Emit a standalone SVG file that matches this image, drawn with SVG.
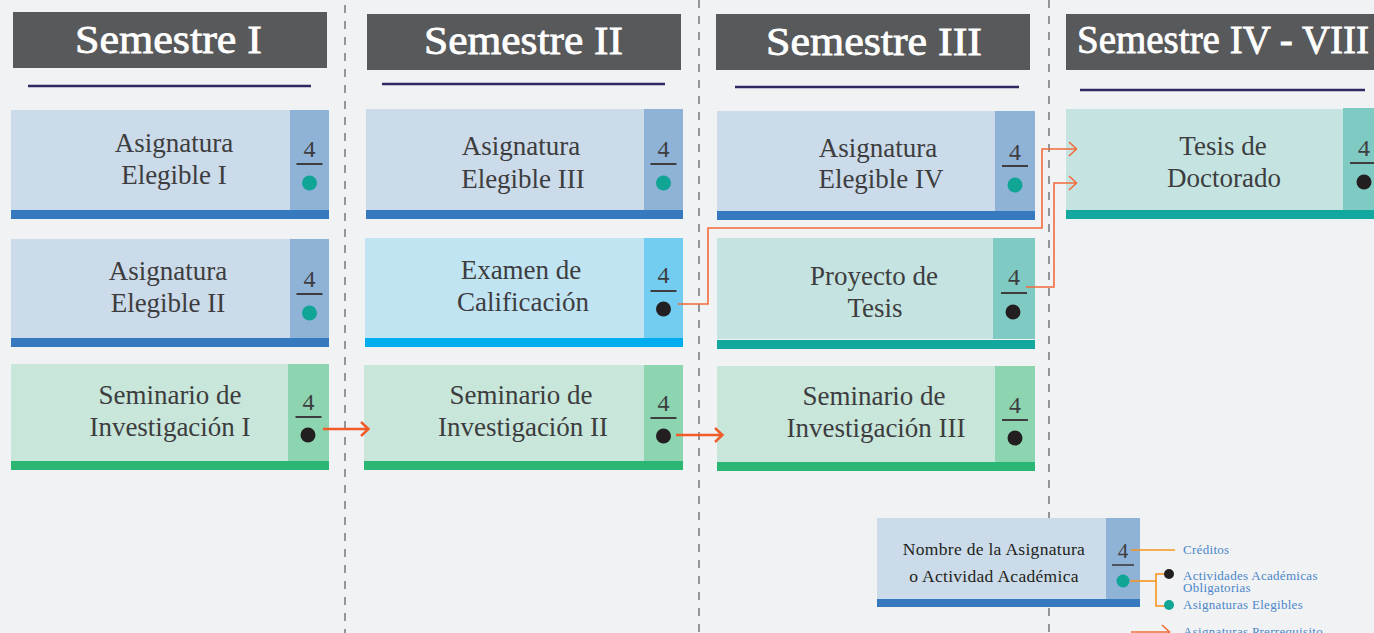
<svg xmlns="http://www.w3.org/2000/svg" width="1374" height="633" viewBox="0 0 1374 633">
<style>
.hdr{fill:#58595b}
.ht{fill:#ffffff;stroke:#ffffff;stroke-width:0.8;font-family:"Liberation Serif",serif;font-size:40px;text-anchor:middle}
.ul{stroke:#2d2a62;stroke-width:2.6}
.dash{stroke:#6d6e71;stroke-width:1.4;stroke-dasharray:8 8;fill:none}
.bm{fill:#cbdbe9}.bp{fill:#8fb2d7}.bb{fill:#3679bf}
.cm{fill:#c1e4f3}.cp{fill:#72cdf0}.cb{fill:#00aeef}
.tm{fill:#c5e4e1}.tp{fill:#7fcbc4}.tb{fill:#12a89d}
.gm{fill:#c8e6da}.gp{fill:#8dd4b1}.gb{fill:#2bb673}
.nm{fill:#3d3d3f;font-family:"Liberation Serif",serif;font-size:27px;text-anchor:middle}
.cr{fill:#3d3d3f;font-family:"Liberation Serif",serif;font-size:24px;text-anchor:middle}
.crl{stroke:#3d3d3f;stroke-width:2}
.dt{fill:#10a595}.dk{fill:#231f20}
.conn{stroke:#f15a29;fill:none;stroke-width:2.4}
.conn2{stroke:#f26b3a;fill:none;stroke-width:1.6}
.lg{stroke:#f7941d;fill:none;stroke-width:1.6}
.lt{fill:#4a86c8;font-family:"Liberation Serif",serif;font-size:13px;letter-spacing:0.3px}
.ln{fill:#231f20;font-family:"Liberation Serif",serif;font-size:17.5px;text-anchor:middle;letter-spacing:0.3px}
</style>
<rect x="0" y="0" width="1374" height="633" fill="#f1f2f4"/>
<g id="dividers">
<line class="dash" x1="345" y1="5" x2="345" y2="633"/>
<line class="dash" x1="699" y1="0" x2="699" y2="633"/>
<line class="dash" x1="1049" y1="0" x2="1049" y2="633"/>
</g>
<g id="header-1">
<rect class="hdr" x="13" y="12" width="314" height="56"/>
<text class="ht" x="168.5" y="53" textLength="187" lengthAdjust="spacingAndGlyphs">Semestre I</text>
<line class="ul" x1="28" y1="86" x2="311" y2="86"/>
</g>
<g id="header-2">
<rect class="hdr" x="367" y="14" width="314" height="56"/>
<text class="ht" x="523.5" y="54" textLength="199" lengthAdjust="spacingAndGlyphs">Semestre II</text>
<line class="ul" x1="382" y1="84" x2="665" y2="84"/>
</g>
<g id="header-3">
<rect class="hdr" x="716" y="14" width="314" height="56"/>
<text class="ht" x="874" y="55" textLength="216" lengthAdjust="spacingAndGlyphs">Semestre III</text>
<line class="ul" x1="735" y1="87" x2="1019" y2="87"/>
</g>
<g id="header-4">
<rect class="hdr" x="1066" y="14" width="320" height="56"/>
<text class="ht" x="1223" y="53" textLength="292" lengthAdjust="spacingAndGlyphs">Semestre IV - VIII</text>
<line class="ul" x1="1080" y1="90" x2="1365" y2="90"/>
</g>
<g id="asig-elegible-1">
<rect class="bm" x="11" y="110" width="318" height="100"/>
<rect class="bp" x="290" y="110" width="39" height="100"/>
<rect class="bb" x="11" y="210" width="318" height="9"/>
<text class="nm" x="174" y="152">Asignatura</text>
<text class="nm" x="174" y="184">Elegible I</text>
<text class="cr" x="309.5" y="157">4</text>
<line class="crl" x1="296.5" y1="164" x2="322.5" y2="164"/>
<circle class="dt" cx="309.5" cy="183" r="7.5"/>
</g>
<g id="asig-elegible-2">
<rect class="bm" x="11" y="239" width="318" height="99"/>
<rect class="bp" x="290" y="239" width="39" height="99"/>
<rect class="bb" x="11" y="338" width="318" height="9"/>
<text class="nm" x="168" y="280">Asignatura</text>
<text class="nm" x="168" y="312">Elegible II</text>
<text class="cr" x="309.5" y="287">4</text>
<line class="crl" x1="296.5" y1="294" x2="322.5" y2="294"/>
<circle class="dt" cx="309.5" cy="313" r="7.5"/>
</g>
<g id="seminario-1">
<rect class="gm" x="11" y="364" width="318" height="97"/>
<rect class="gp" x="288" y="364" width="41" height="97"/>
<rect class="gb" x="11" y="461" width="318" height="9"/>
<text class="nm" x="170" y="404">Seminario de</text>
<text class="nm" x="170" y="436">Investigación I</text>
<text class="cr" x="308.5" y="410">4</text>
<line class="crl" x1="295.5" y1="417" x2="321.5" y2="417"/>
<circle class="dk" cx="308" cy="435" r="7.5"/>
</g>
<g id="asig-elegible-3">
<rect class="bm" x="366" y="109" width="317" height="101"/>
<rect class="bp" x="644" y="109" width="39" height="101"/>
<rect class="bb" x="366" y="210" width="317" height="9"/>
<text class="nm" x="521" y="155">Asignatura</text>
<text class="nm" x="523" y="188">Elegible III</text>
<text class="cr" x="663.5" y="157">4</text>
<line class="crl" x1="650.5" y1="164" x2="676.5" y2="164"/>
<circle class="dt" cx="663.5" cy="183" r="7.5"/>
</g>
<g id="examen">
<rect class="cm" x="365" y="238" width="318" height="100"/>
<rect class="cp" x="644" y="238" width="39" height="100"/>
<rect class="cb" x="365" y="338" width="318" height="9"/>
<text class="nm" x="521" y="279">Examen de</text>
<text class="nm" x="523" y="311">Calificación</text>
<text class="cr" x="663.5" y="283">4</text>
<line class="crl" x1="650.5" y1="291" x2="676.5" y2="291"/>
<circle class="dk" cx="663.5" cy="309" r="7.5"/>
</g>
<g id="seminario-2">
<rect class="gm" x="364" y="365" width="319" height="96"/>
<rect class="gp" x="644" y="365" width="39" height="96"/>
<rect class="gb" x="364" y="461" width="319" height="9"/>
<text class="nm" x="521" y="404">Seminario de</text>
<text class="nm" x="523" y="436">Investigación II</text>
<text class="cr" x="663.5" y="411">4</text>
<line class="crl" x1="650.5" y1="418" x2="676.5" y2="418"/>
<circle class="dk" cx="663.5" cy="436" r="7.5"/>
</g>
<g id="asig-elegible-4">
<rect class="bm" x="717" y="111" width="318" height="100"/>
<rect class="bp" x="995" y="111" width="40" height="100"/>
<rect class="bb" x="717" y="211" width="318" height="9"/>
<text class="nm" x="878" y="157">Asignatura</text>
<text class="nm" x="881" y="188">Elegible IV</text>
<text class="cr" x="1015" y="160">4</text>
<line class="crl" x1="1002" y1="166" x2="1028" y2="166"/>
<circle class="dt" cx="1015" cy="185" r="7.5"/>
</g>
<g id="proyecto-tesis">
<rect class="tm" x="717" y="238" width="318" height="101"/>
<rect class="tp" x="993" y="238" width="42" height="101"/>
<rect class="tb" x="717" y="340" width="318" height="9"/>
<text class="nm" x="874" y="285">Proyecto de</text>
<text class="nm" x="875" y="317">Tesis</text>
<text class="cr" x="1014" y="285">4</text>
<line class="crl" x1="1001" y1="293" x2="1027" y2="293"/>
<circle class="dk" cx="1013" cy="312" r="7.5"/>
</g>
<g id="seminario-3">
<rect class="gm" x="717" y="366" width="318" height="96"/>
<rect class="gp" x="995" y="366" width="40" height="96"/>
<rect class="gb" x="717" y="462" width="318" height="9"/>
<text class="nm" x="874" y="405">Seminario de</text>
<text class="nm" x="876" y="437">Investigación III</text>
<text class="cr" x="1015" y="413">4</text>
<line class="crl" x1="1002" y1="420" x2="1028" y2="420"/>
<circle class="dk" cx="1015" cy="438" r="7.5"/>
</g>
<g id="tesis-doctorado">
<rect class="tm" x="1066" y="109" width="320" height="101"/>
<rect class="tp" x="1343" y="108" width="43" height="102"/>
<rect class="tb" x="1066" y="210" width="320" height="9"/>
<text class="nm" x="1223" y="155">Tesis de</text>
<text class="nm" x="1224" y="187">Doctorado</text>
<text class="cr" x="1364" y="156">4</text>
<line class="crl" x1="1350" y1="163" x2="1377" y2="163"/>
<circle class="dk" cx="1364" cy="182" r="7.5"/>
</g>
<g id="connectors">
<path class="conn" d="M323,429 H368"/>
<path class="conn" d="M361,422 L368.5,429 L361,436"/>
<path class="conn" d="M676,435 H722"/>
<path class="conn" d="M715,428 L722.5,435 L715,442"/>
<path class="conn2" d="M678,304 H708 V228 H1042 V149 H1076"/>
<path class="conn2" d="M1069,142 L1076.5,149 L1069,156"/>
<path class="conn2" d="M1026,287 H1054 V183 H1076"/>
<path class="conn2" d="M1069,176 L1076.5,183 L1069,190"/>
</g>
<g id="legend">
<rect class="bm" x="877" y="518" width="263" height="81"/>
<rect class="bp" x="1106" y="518" width="34" height="81"/>
<rect class="bb" x="877" y="599" width="263" height="8"/>
<text class="ln" x="994" y="555">Nombre de la Asignatura</text>
<text class="ln" x="994" y="582">o Actividad Académica</text>
<text class="cr" x="1123" y="558" style="font-size:21px">4</text>
<line class="crl" x1="1112" y1="565" x2="1134" y2="565" style="stroke-width:1.6"/>
<circle class="dt" cx="1123" cy="581" r="6.5"/>
<path class="lg" d="M1131,550 H1175"/>
<path class="lg" d="M1130,581 H1156"/>
<path class="lg" d="M1169,574 H1156 V606 H1169"/>
<circle class="dk" cx="1169" cy="574" r="5"/>
<circle class="dt" cx="1169" cy="605" r="5"/>
<path class="conn2" d="M1131,632 H1169"/>
<path class="conn2" d="M1162,625 L1169.5,632 L1162,639"/>
<text class="lt" x="1183" y="554">Créditos</text>
<text class="lt" x="1183" y="580">Actividades Académicas</text>
<text class="lt" x="1183" y="592">Obligatorias</text>
<text class="lt" x="1183" y="609">Asignaturas Elegibles</text>
<text class="lt" x="1183" y="636">Asignaturas Prerrequisito</text>
</g>
</svg>
